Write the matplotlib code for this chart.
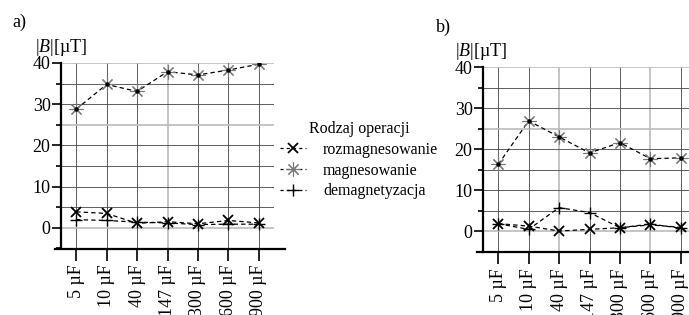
import matplotlib
matplotlib.use("Agg")
import matplotlib.pyplot as plt
from matplotlib.lines import Line2D

plt.rcParams["font.family"] = ["Liberation Serif", "DejaVu Serif"]
plt.rcParams["mathtext.fontset"] = "custom"
plt.rcParams["mathtext.rm"] = "Liberation Serif"
plt.rcParams["mathtext.it"] = "Liberation Serif:italic"
plt.rcParams["font.size"] = 13

categories = ["5 µF", "10 µF", "40 µF", "147 µF", "300 µF", "600 µF", "900 µF"]
series_names = ["rozmagnesowanie", "magnesowanie", "demagnetyzacja"]

# panel a)
a_rozmag = [3.9, 3.5, 1.1, 1.5, 1.0, 1.8, 1.2]
a_mag = [28.8, 34.8, 33.1, 37.9, 37.1, 38.3, 39.7]
a_demag = [2.0, 1.8, 1.4, 1.2, 0.8, 0.9, 0.9]

# panel b)
b_rozmag = [1.9, 1.3, 0.1, 0.5, 0.9, 1.6, 1.0]
b_mag = [16.3, 26.9, 23.0, 19.1, 21.6, 17.7, 17.9]
b_demag = [1.9, 0.5, 5.8, 4.6, 0.9, 1.8, 0.8]

W, H = 689, 315
fig = plt.figure(figsize=(W / 100, H / 100), dpi=100)

STAR = (8, 2, 0)
styles = {
    "rozmagnesowanie": dict(marker="x", ms=7, mew=1.3, mec="black"),
    "magnesowanie": dict(marker=STAR, ms=10, mew=0.8, mec="#777777"),
    "demagnetyzacja": dict(marker="+", ms=8, mew=1.0, mec="black"),
}


def panel(rect, roz, mag, dem, light_x, label, label_pos, ylab_pos):
    ax = fig.add_axes(rect)
    x = list(range(len(categories)))
    ax.set_xlim(-0.5, 6.5)
    ax.set_ylim(-5, 40)
    # grid
    for i in x:
        c, lw = ("#bbbbbb", 1.2) if i in light_x else ("#444444", 0.6)
        ax.axvline(i, color=c, lw=lw, zorder=0)
    for yv in range(0, 41, 5):
        c, lw = ("#bbbbbb", 1.2) if yv in (0, 25, 40) else ("#444444", 0.6)
        ax.axhline(yv, color=c, lw=lw, zorder=0)
    for name, vals in zip(series_names, [roz, mag, dem]):
        ax.plot(x, vals, color="black", lw=0.9, ls=(0, (3.5, 2.5)), **styles[name], zorder=3)
        if name == "magnesowanie":
            ax.plot(x, vals, ls="none", marker="o", ms=2.2, color="black", zorder=4)
    ax.set_xticks(x)
    ax.set_xticklabels(categories, rotation=90)
    ax.set_yticks(range(0, 41, 10))
    ax.set_yticks(range(-5, 41, 5), minor=True)
    ax.tick_params(axis="x", length=8.6, width=1.2, pad=3, direction="out")
    ax.tick_params(axis="y", which="major", length=6.5, width=1.2, pad=1, direction="out")
    ax.tick_params(axis="y", which="minor", length=3.6, width=1.2, direction="out")
    for s in ["top", "right"]:
        ax.spines[s].set_visible(False)
    ax.spines["left"].set_linewidth(1.6)
    ax.spines["bottom"].set_visible(False)
    ax.plot([-0.03, 1.05], [0, 0], transform=ax.transAxes, clip_on=False,
            color="black", lw=1.6)
    fig.text(label_pos[0] / W, 1 - label_pos[1] / H, label, ha="left", va="center")
    fig.text(ylab_pos[0] / W, 1 - ylab_pos[1] / H, "|$B$|[µT]", ha="left", va="center")
    return ax


panel([61 / W, 1 - 248.5 / H, 213 / W, 185.5 / H], a_rozmag, a_mag, a_demag,
      [3], "a)", (12, 22), (35, 47))
panel([483 / W, 1 - 252 / H, 213 / W, 185 / H], b_rozmag, b_mag, b_demag,
      [2, 5], "b)", (436, 27), (455, 52))

handles = [Line2D([], [], color="black", lw=0.9, ls=(0, (2.5, 2.5)), **styles[n]) for n in series_names]
fig.legend(handles, series_names, title="Rodzaj operacji", frameon=False,
           loc="upper left", bbox_to_anchor=(272 / W, 1 - 113 / H),
           borderpad=0, handlelength=1.6, handletextpad=1.1, labelspacing=0.3,
           fontsize=11.5, title_fontsize=11.5)

fig.savefig("out.png", dpi=100)
